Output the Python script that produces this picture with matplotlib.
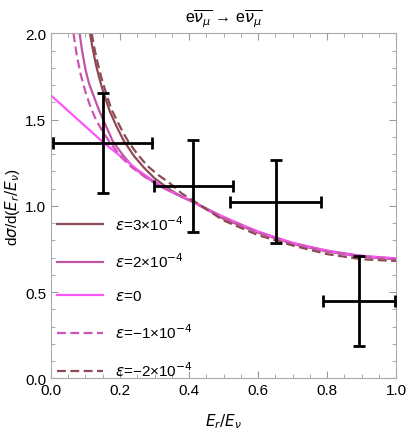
import matplotlib
matplotlib.use('Agg')
import matplotlib.pyplot as plt
from matplotlib.ticker import MultipleLocator

plt.rcParams['font.family'] = ['Liberation Sans', 'DejaVu Sans']
plt.rcParams['mathtext.fontset'] = 'dejavusans'

# data points with error bars
pt_x = [0.150, 0.413, 0.651, 0.893]
pt_y = [1.362, 1.117, 1.022, 0.448]
pt_xerr = [0.143, 0.115, 0.132, 0.104]
pt_ylo = [0.286, 0.271, 0.239, 0.259]
pt_yhi = [0.290, 0.266, 0.245, 0.263]

# curves
x_e3 = [0.113, 0.12, 0.13, 0.14, 0.15, 0.17, 0.19, 0.21, 0.24, 0.27, 0.30, 0.34, 0.38, 0.42, 0.50, 0.60, 0.70, 0.80, 0.90, 1.00]
y_e3 = [2.00, 1.92, 1.82, 1.74, 1.67, 1.55, 1.46, 1.38, 1.29, 1.22, 1.16, 1.10, 1.05, 1.015, 0.925, 0.845, 0.78, 0.735, 0.705, 0.69]

x_e2 = [0.083, 0.09, 0.10, 0.11, 0.123, 0.14, 0.16, 0.18, 0.21, 0.24, 0.28, 0.32, 0.36, 0.40, 0.50, 0.60, 0.70, 0.80, 0.90, 1.00]
y_e2 = [2.00, 1.90, 1.79, 1.71, 1.64, 1.55, 1.46, 1.37, 1.29, 1.22, 1.16, 1.11, 1.07, 1.035, 0.935, 0.85, 0.785, 0.74, 0.71, 0.695]

x_e0 = [0.0, 0.05, 0.10, 0.15, 0.20, 0.25, 0.30, 0.35, 0.40, 0.45, 0.50, 0.55, 0.60, 0.65, 0.70, 0.75, 0.80, 0.85, 0.90, 0.95, 1.0]
y_e0 = [1.64, 1.55, 1.46, 1.37, 1.29, 1.21, 1.14, 1.08, 1.035, 0.98, 0.935, 0.89, 0.85, 0.815, 0.785, 0.76, 0.74, 0.72, 0.71, 0.70, 0.695]

x_em1 = [0.065, 0.075, 0.085, 0.10, 0.115, 0.13, 0.15, 0.17, 0.20, 0.23, 0.27, 0.31, 0.35, 0.40, 0.50, 0.60, 0.70, 0.80, 0.90, 1.00]
y_em1 = [2.00, 1.87, 1.77, 1.66, 1.57, 1.50, 1.43, 1.37, 1.29, 1.23, 1.17, 1.12, 1.08, 1.035, 0.93, 0.845, 0.78, 0.735, 0.705, 0.69]

x_em2 = [0.118, 0.125, 0.135, 0.145, 0.157, 0.175, 0.195, 0.21, 0.225, 0.25, 0.28, 0.31, 0.345, 0.38, 0.42, 0.50, 0.60, 0.70, 0.80, 0.90, 1.00]
y_em2 = [2.00, 1.92, 1.83, 1.75, 1.67, 1.56, 1.48, 1.42, 1.37, 1.30, 1.23, 1.18, 1.13, 1.07, 1.02, 0.915, 0.83, 0.77, 0.72, 0.69, 0.68]

dark = '#8e4a55'
mid = '#c055a8'
bright = '#ff55ff'
dpink = '#cc55b4'

fig = plt.figure(figsize=(4.07, 4.31), dpi=100)
ax = fig.add_axes([0.1253, 0.12, 0.8477, 0.8004])

ax.plot(x_e3, y_e3, color=dark, lw=1.6, label=r'$\epsilon$=3×10$^{-4}$')
ax.plot(x_e2, y_e2, color=mid, lw=1.6, label=r'$\epsilon$=2×10$^{-4}$')
ax.plot(x_e0, y_e0, color=bright, lw=1.6, label=r'$\epsilon$=0')
ax.plot(x_em1, y_em1, color=dpink, lw=1.6, ls=(0, (4, 2)), label=r'$\epsilon$=−1×10$^{-4}$')
ax.plot(x_em2, y_em2, color=dark, lw=1.6, ls=(0, (4, 2)), label=r'$\epsilon$=−2×10$^{-4}$')

ax.errorbar(pt_x, pt_y, xerr=pt_xerr, yerr=[pt_ylo, pt_yhi], fmt='none',
            ecolor='black', elinewidth=2, capsize=4, capthick=2, zorder=5)

ax.set_xlim(0, 1)
ax.set_ylim(0, 2)
ax.xaxis.set_major_locator(MultipleLocator(0.2))
ax.xaxis.set_minor_locator(MultipleLocator(0.05))
ax.yaxis.set_major_locator(MultipleLocator(0.5))
ax.yaxis.set_minor_locator(MultipleLocator(0.1))
ax.tick_params(which='both', direction='in', top=True, right=True, color='#999999', labelsize=11)
ax.tick_params(which='major', length=5)
ax.tick_params(which='minor', length=3)
for s in ax.spines.values():
    s.set_color('#aaaaaa')

ax.set_title(r'e$\overline{\nu_\mu}$ → e$\overline{\nu_\mu}$', fontsize=11.5, pad=8)
ax.set_xlabel(r'$E_r/E_\nu$', fontsize=11, labelpad=10)
ax.set_ylabel(r'd$\sigma$/d($E_r/E_\nu$)', fontsize=11, labelpad=2)

ax.legend(loc='lower left', bbox_to_anchor=(-0.022, -0.042), frameon=False, fontsize=11,
          handlelength=3.0, labelspacing=1.25, handletextpad=0.8)

fig.savefig('out.png', dpi=100)
